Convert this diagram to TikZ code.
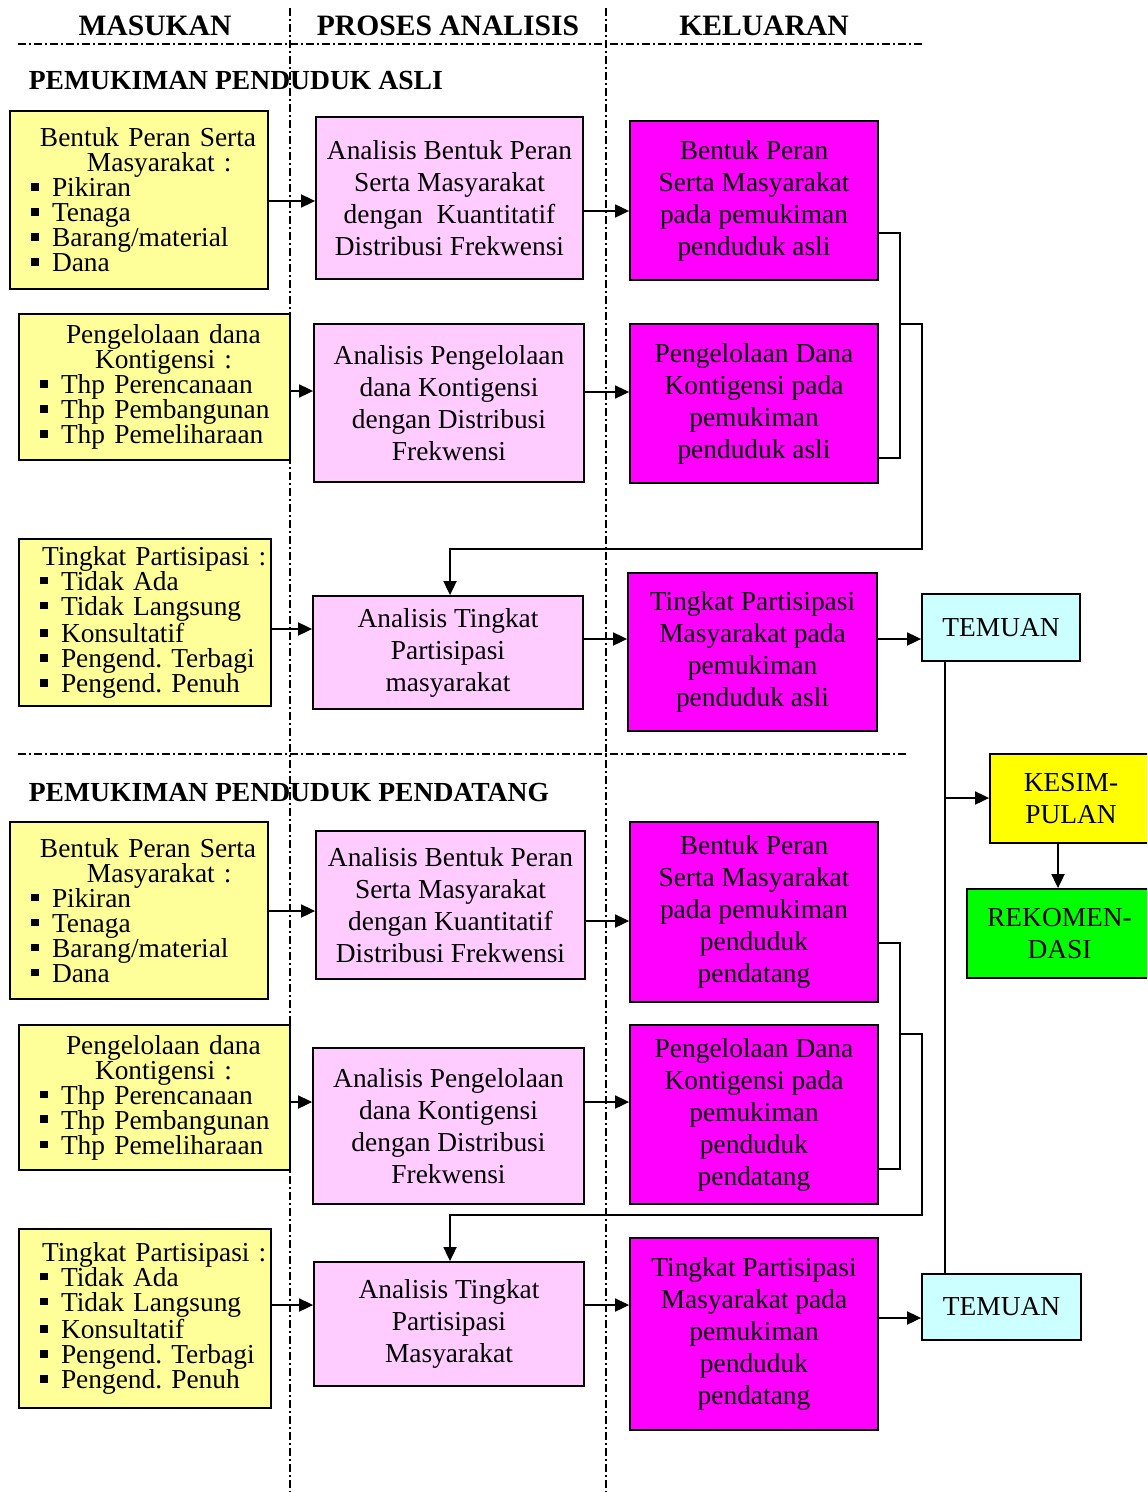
\documentclass[tikz,border=0pt]{standalone}
\usepackage{fontspec}
\setmainfont{Liberation Serif}
\usetikzlibrary{arrows.meta}
\definecolor{inyellow}{HTML}{FFFF99}
\definecolor{procpink}{HTML}{FFCCFF}
\definecolor{outmag}{HTML}{FF00FF}
\definecolor{findcyan}{HTML}{CCFFFF}
\definecolor{concyellow}{HTML}{FFFF00}
\definecolor{recgreen}{HTML}{00FF00}
\newcommand{\itm}[1]{\mbox{\makebox[10.5pt][l]{\rule[3pt]{3.8pt}{3.8pt}}#1}}
\newcommand{\hd}[2]{\mbox{\hspace*{#1}#2}}
\frenchspacing

\begin{document}
\begin{tikzpicture}[x=0.5pt, y=-0.5pt, line width=0.8pt,
  box/.style={draw, line width=0.9pt, font=\fontsize{13.7pt}{16pt}\selectfont, align=center, inner sep=2pt},
  inbox/.style={box, fill=inyellow, align=left, inner xsep=10.5pt, font=\fontsize{13.7pt}{12.5pt}\selectfont},
  procbox/.style={box, fill=procpink},
  outbox/.style={box, fill=outmag},
  sep/.style={dash pattern=on 4pt off 1.5pt on 1pt off 1.5pt, line width=0.9pt},
  arr/.style={-{Triangle[length=7pt,width=6.5pt]}, line width=0.9pt},
  head/.style={inner sep=0pt, font=\fontsize{14.8pt}{16pt}\selectfont\bfseries},
  zone/.style={inner sep=0pt, anchor=west, font=\fontsize{13.8pt}{16pt}\selectfont\bfseries}]
  \clip (0,0) rectangle (1147,1492);

  \node[head] (hin) at (155,26) {MASUKAN};
  \node[head] (hproc) at (448,26) {PROSES ANALISIS};
  \node[head] (hout) at (764,26) {KELUARAN};
  \node[zone] (zasli) at (28,81) {PEMUKIMAN PENDUDUK ASLI};
  \node[zone] (zdatang) at (28,792) {PEMUKIMAN PENDUDUK PENDATANG};

  \draw[sep] (18,44) -- (922,44);
  \draw[sep] (18,754) -- (908,754);
  \draw[sep] (290,8) -- (290,1492);
  \draw[sep] (606,8) -- (606,1492);

  % penduduk asli
  \node[inbox, text width=108pt, minimum height=89pt] (y1) at (139,200)
    {\hd{4.5pt}{Bentuk Peran Serta}\\\hd{28pt}{Masyarakat :}\\\itm{Pikiran}\\\itm{Tenaga}\\\itm{Barang/material}\\\itm{Dana}};
  \node[procbox, minimum width=133.5pt, minimum height=81pt] (p1) at (449.5,198)
    {Analisis Bentuk Peran\\Serta Masyarakat\\dengan\ \ Kuantitatif\\Distribusi Frekwensi};
  \node[outbox, minimum width=124pt, minimum height=79.5pt] (m1) at (754,200.5)
    {Bentuk Peran\\Serta Masyarakat\\pada pemukiman\\penduduk asli};

  \node[inbox, text width=114.5pt, minimum height=73pt] (y2) at (154.5,387)
    {\hd{13pt}{Pengelolaan dana}\\\hd{27.5pt}{Kontigensi :}\\\itm{Thp Perencanaan}\\\itm{Thp Pembangunan}\\\itm{Thp Pemeliharaan}};
  \node[procbox, minimum width=135pt, minimum height=79pt] (p2) at (449,403)
    {Analisis Pengelolaan\\dana Kontigensi\\dengan Distribusi\\Frekwensi};
  \node[outbox, minimum width=124pt, minimum height=79.5pt] (m2) at (754,403.5)
    {Pengelolaan Dana\\Kontigensi pada\\pemukiman\\penduduk asli};

  \node[inbox, text width=105pt, minimum height=83.5pt] (y3) at (145,622.5)
    {\hd{1pt}{Tingkat Partisipasi :}\\\itm{Tidak Ada}\\\itm{Tidak Langsung}\\\itm{Konsultatif}\\\itm{Pengend. Terbagi}\\\itm{Pengend. Penuh}};
  \node[procbox, minimum width=135pt, minimum height=56.5pt] (p3) at (448,652.5)
    {Analisis Tingkat\\Partisipasi\\masyarakat};
  \node[outbox, minimum width=124.5pt, minimum height=79pt] (m3) at (752.5,652)
    {Tingkat Partisipasi\\Masyarakat pada\\pemukiman\\penduduk asli};
  \node[box, fill=findcyan, minimum width=79pt, minimum height=33.5pt] (t1) at (1001,627.5) {TEMUAN};

  \draw[arr] (y1.east |- 0,201) -- (p1.west |- 0,201);
  \draw[arr] (p1.east |- 0,211) -- (m1.west |- 0,211);
  \draw[arr] (y2.east |- 0,391) -- (p2.west |- 0,391);
  \draw[arr] (p2.east |- 0,392) -- (m2.west |- 0,392);
  \draw[arr] (y3.east |- 0,629) -- (p3.west |- 0,629);
  \draw[arr] (p3.east |- 0,639) -- (m3.west |- 0,639);
  \draw[arr] (m3.east |- 0,639) -- (t1.west |- 0,639);
  \draw (m1.east |- 0,233) -| (900,458) -- (m2.east |- 0,458);
  \coordinate (ja) at (900,324);
  \draw[arr] (ja) -| (922,549) -| (p3.north -| 450,0);

  % penduduk pendatang
  \node[inbox, text width=108pt, minimum height=88.5pt] (y4) at (139,910.5)
    {\hd{4.5pt}{Bentuk Peran Serta}\\\hd{28pt}{Masyarakat :}\\\itm{Pikiran}\\\itm{Tenaga}\\\itm{Barang/material}\\\itm{Dana}};
  \node[procbox, minimum width=134.5pt, minimum height=74pt] (p4) at (450.5,905)
    {Analisis Bentuk Peran\\Serta Masyarakat\\dengan Kuantitatif\\Distribusi Frekwensi};
  \node[outbox, minimum width=124pt, minimum height=90pt] (m4) at (754,912)
    {Bentuk Peran\\Serta Masyarakat\\pada pemukiman\\penduduk\\pendatang};

  \node[inbox, text width=114.5pt, minimum height=72.5pt] (y5) at (154.5,1097.5)
    {\hd{13pt}{Pengelolaan dana}\\\hd{27.5pt}{Kontigensi :}\\\itm{Thp Perencanaan}\\\itm{Thp Pembangunan}\\\itm{Thp Pemeliharaan}};
  \node[procbox, minimum width=135.5pt, minimum height=78pt] (p5) at (448.5,1126)
    {Analisis Pengelolaan\\dana Kontigensi\\dengan Distribusi\\Frekwensi};
  \node[outbox, minimum width=124pt, minimum height=89.5pt] (m5) at (754,1114.5)
    {Pengelolaan Dana\\Kontigensi pada\\pemukiman\\penduduk\\pendatang};

  \node[inbox, text width=105pt, minimum height=89.5pt] (y6) at (145,1318.5)
    {\hd{1pt}{Tingkat Partisipasi :}\\\itm{Tidak Ada}\\\itm{Tidak Langsung}\\\itm{Konsultatif}\\\itm{Pengend. Terbagi}\\\itm{Pengend. Penuh}};
  \node[procbox, minimum width=135pt, minimum height=62pt] (p6) at (449,1324)
    {Analisis Tingkat\\Partisipasi\\Masyarakat};
  \node[outbox, minimum width=124pt, minimum height=96pt] (m6) at (754,1334)
    {Tingkat Partisipasi\\Masyarakat pada\\pemukiman\\penduduk\\pendatang};
  \node[box, fill=findcyan, minimum width=79.5pt, minimum height=33pt] (t2) at (1001.5,1307) {TEMUAN};

  \draw[arr] (y4.east |- 0,911) -- (p4.west |- 0,911);
  \draw[arr] (p4.east |- 0,921) -- (m4.west |- 0,921);
  \draw[arr] (y5.east |- 0,1102) -- (p5.west |- 0,1102);
  \draw[arr] (p5.east |- 0,1102) -- (m5.west |- 0,1102);
  \draw[arr] (y6.east |- 0,1305) -- (p6.west |- 0,1305);
  \draw[arr] (p6.east |- 0,1305) -- (m6.west |- 0,1305);
  \draw[arr] (m6.east |- 0,1318) -- (t2.west |- 0,1318);
  \draw (m4.east |- 0,943) -| (900,1169) -- (m5.east |- 0,1169);
  \coordinate (jb) at (900,1034);
  \draw[arr] (jb) -| (922,1215) -| (p6.north -| 450,0);

  % kesimpulan
  \node[box, fill=concyellow, minimum width=81pt, minimum height=44.5pt] (ks) at (1071,798.5) {KESIM-\\PULAN};
  \node[box, fill=recgreen, minimum width=92.5pt, minimum height=44.5pt] (rk) at (1059.5,933.5) {REKOMEN-\\DASI};
  \draw (t1.south -| 945,0) -- (t2.north -| 945,0);
  \coordinate (jt) at (945,798);
  \draw[arr] (jt) -- (ks.west |- jt);
  \draw[arr] (ks.south -| 1058,0) -- (rk.north -| 1058,0);
\end{tikzpicture}
\end{document}
